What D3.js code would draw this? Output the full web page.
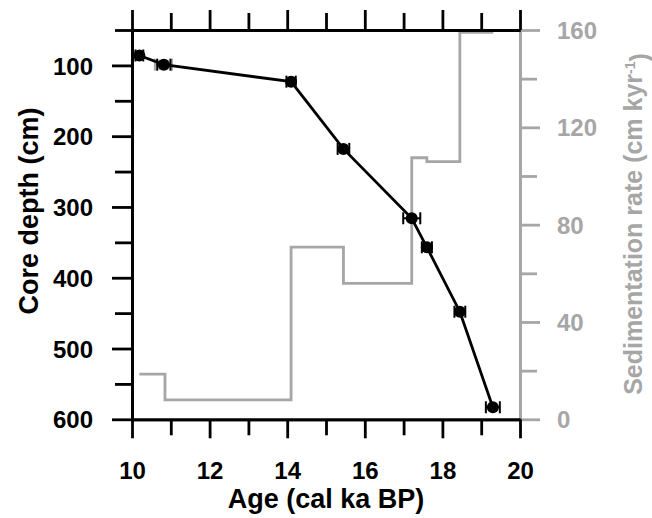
<!DOCTYPE html>
<html lang="en">
<head>
  <meta charset="UTF-8">
  <title>Age-depth model</title>
  <script src="https://d3js.org/d3.v7.min.js"></script>
  <style>
    body { margin: 0; background: #fff; }
    svg text { font-family: "Liberation Sans", Arial, sans-serif; font-weight: bold; }
  </style>
</head>
<body>
  <svg id="chart" width="652" height="518"></svg>

  <script>
    // age-depth tie points (cal ka BP, cm) with 1-sigma age errors
    const ages   = [10.19, 10.82, 14.10, 15.45, 17.21, 17.60, 18.45, 19.30];
    const depths = [86, 99, 123, 218, 316, 357, 448, 583];
    const ageErr = [0.10, 0.17, 0.12, 0.15, 0.22, 0.13, 0.14, 0.18];

    // grey (rejected) date sitting behind the second point
    const greyAge = [10.81];
    const greyDepth = [99];
    const greyErr = [0.22];

    // sedimentation rate steps (start age -> rate), last one ends at stepEnd
    const stepAges  = [10.19, 10.85, 14.10, 15.45, 17.21, 17.60, 18.45];
    const stepRates = [18.6, 8, 70.8, 55.9, 107.5, 105.9, 159];
    const stepEnd   = 19.31;

    const ageTicks   = [10, 12, 14, 16, 18, 20];
    const ageMinor   = [11, 13, 15, 17, 19];
    const depthTicks = [100, 200, 300, 400, 500, 600];
    const depthMinor = [50, 150, 250, 350, 450, 550];
    const rateTicks  = [0, 40, 80, 120, 160];
    const rateMinor  = [20, 60, 100, 140];

    const grey = "#a6a6a6";
    const svg = d3.select("#chart");

    const x = d3.scaleLinear().domain([10, 20]).range([132, 520]);
    const y = d3.scaleLinear().domain([50, 600]).range([30, 419.3]);
    const yR = d3.scaleLinear().domain([0, 160]).range([419.3, 30]);

    // style helper for axes
    function styleAxis(g, color, fontSize) {
      g.selectAll("path, line").attr("stroke", color).attr("stroke-width", 2.8);
      g.selectAll("text").attr("fill", color).style("font-size", fontSize);
    }

    // right axis (grey) first so black frame sits on top
    svg.append("g")
      .attr("transform", "translate(520,0)")
      .call(d3.axisRight(yR).tickValues(rateMinor).tickSize(17).tickSizeOuter(0).tickFormat(""))
      .call(g => styleAxis(g, grey, "24px"));
    svg.append("g")
      .attr("transform", "translate(520,0)")
      .call(d3.axisRight(yR).tickValues(rateTicks).tickSize(20).tickSizeOuter(0).tickPadding(17))
      .call(g => styleAxis(g, grey, "24px"))
      .call(g => g.selectAll("text").attr("dy", "0.36em"));

    // sedimentation rate step line
    const stepPts = stepAges.map((a, i) => [a, stepRates[i]]);
    stepPts.push([stepEnd, stepRates[stepRates.length - 1]]);
    svg.append("path")
      .datum(stepPts)
      .attr("fill", "none")
      .attr("stroke", grey)
      .attr("stroke-width", 2.8)
      .attr("d", d3.line().x(d => x(d[0])).y(d => yR(d[1])).curve(d3.curveStepAfter));

    // left axis
    svg.append("g")
      .attr("transform", "translate(132,0)")
      .call(d3.axisLeft(y).tickValues(depthMinor).tickSize(17).tickSizeOuter(0).tickFormat(""))
      .call(g => styleAxis(g, "#000", "24px"));
    svg.append("g")
      .attr("transform", "translate(132,0)")
      .call(d3.axisLeft(y).tickValues(depthTicks).tickSize(20).tickSizeOuter(0).tickPadding(19))
      .call(g => styleAxis(g, "#000", "24px"))
      .call(g => g.selectAll("text").attr("dy", "0.36em"));

    // bottom axis
    svg.append("g")
      .attr("transform", "translate(0,419.3)")
      .call(d3.axisBottom(x).tickValues(ageMinor).tickSize(16).tickSizeOuter(0).tickFormat(""))
      .call(g => styleAxis(g, "#000", "24px"));
    svg.append("g")
      .attr("transform", "translate(0,419.3)")
      .call(d3.axisBottom(x).tickValues(ageTicks).tickSize(19).tickSizeOuter(0).tickPadding(24))
      .call(g => styleAxis(g, "#000", "24px"));

    // top axis, ticks only
    svg.append("g")
      .attr("transform", "translate(0,30)")
      .call(d3.axisTop(x).tickValues(ageMinor).tickSize(17).tickSizeOuter(0).tickFormat(""))
      .call(g => styleAxis(g, "#000", "24px"));
    svg.append("g")
      .attr("transform", "translate(0,30)")
      .call(d3.axisTop(x).tickValues(ageTicks).tickSize(20).tickSizeOuter(0).tickFormat(""))
      .call(g => styleAxis(g, "#000", "24px"));

    // error bars
    function errorBars(a, d, e, color) {
      const g = svg.append("g").attr("stroke", color).attr("stroke-width", 2);
      a.forEach((v, i) => {
        const cy = y(d[i]);
        const x0 = x(v - e[i]), x1 = x(v + e[i]);
        g.append("line").attr("x1", x0).attr("x2", x1).attr("y1", cy).attr("y2", cy);
        g.append("line").attr("x1", x0).attr("x2", x0).attr("y1", cy - 6).attr("y2", cy + 6);
        g.append("line").attr("x1", x1).attr("x2", x1).attr("y1", cy - 6).attr("y2", cy + 6);
      });
    }

    errorBars(greyAge, greyDepth, greyErr, grey);
    svg.selectAll("rect.grey")
      .data(greyAge)
      .join("rect")
        .attr("class", "grey")
        .attr("x", (d) => x(d) - 5)
        .attr("y", (d, i) => y(greyDepth[i]) - 5)
        .attr("width", 10).attr("height", 10)
        .attr("fill", grey);

    // age-depth line
    svg.append("path")
      .datum(ages.map((a, i) => [a, depths[i]]))
      .attr("fill", "none")
      .attr("stroke", "#000")
      .attr("stroke-width", 2.8)
      .attr("d", d3.line().x(d => x(d[0])).y(d => y(d[1])));

    errorBars(ages, depths, ageErr, "#000");

    svg.append("g")
      .selectAll("circle")
      .data(ages)
      .join("circle")
        .attr("cx", d => x(d))
        .attr("cy", (d, i) => y(depths[i]))
        .attr("r", 6)
        .attr("fill", "#000");

    // axis titles
    svg.append("text")
      .attr("x", 326).attr("y", 508)
      .attr("text-anchor", "middle")
      .style("font-size", "27px")
      .text("Age (cal ka BP)");

    svg.append("text")
      .attr("transform", "translate(38,211) rotate(-90)")
      .attr("text-anchor", "middle")
      .style("font-size", "27px")
      .text("Core depth (cm)");

    const rt = svg.append("text")
      .attr("transform", "translate(642,224) rotate(-90)")
      .attr("text-anchor", "middle")
      .attr("fill", grey)
      .style("font-size", "25px");
    rt.append("tspan").text("Sedimentation rate (cm kyr");
    rt.append("tspan").attr("dy", "-0.5em").style("font-size", "14px").text("-1");
    rt.append("tspan").attr("dy", "0.5em").text(")");
  </script>
</body>
</html>
